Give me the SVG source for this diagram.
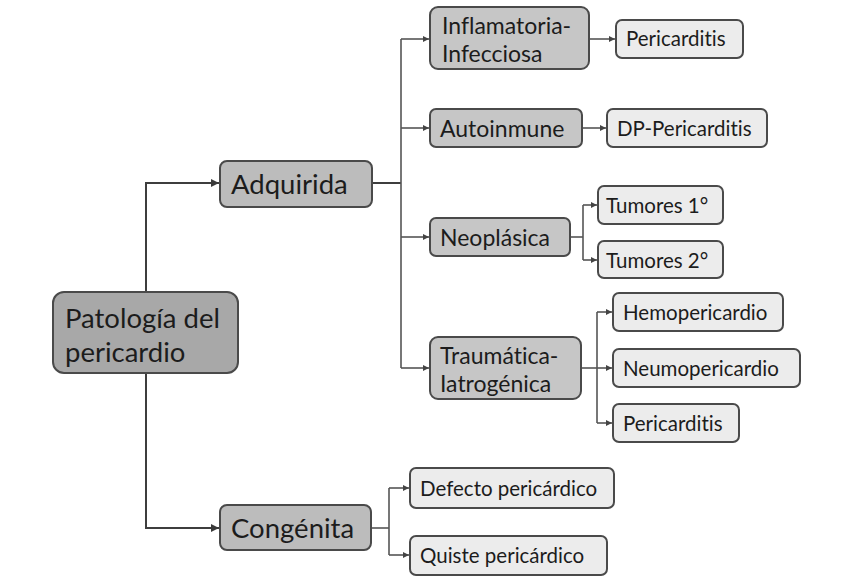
<svg xmlns="http://www.w3.org/2000/svg" width="850" height="581" viewBox="0 0 850 581">
<defs>
<marker id="ah" viewBox="0 0 10 10" refX="10" refY="5" markerWidth="10" markerHeight="8" markerUnits="userSpaceOnUse" orient="auto"><path d="M0,0 L10,5 L0,10 z" fill="#3a3a3a"/></marker>
<marker id="as" viewBox="0 0 10 10" refX="10" refY="5" markerWidth="7" markerHeight="6" markerUnits="userSpaceOnUse" orient="auto"><path d="M0,0 L10,5 L0,10 z" fill="#444"/></marker>
<style>
rect{stroke:#4a4a4a;stroke-width:2}
.r0{fill:#a8a8a8}
.r1{fill:#bcbcbc}
.r2{fill:#c6c6c6}
.r3{fill:#ececec}
text{font-family:Lato,"Liberation Sans",sans-serif;fill:#1c1c1c;font-variant-ligatures:none;font-feature-settings:"liga" 0,"dlig" 0}
.t0{font-size:27.5px}
.t2{font-size:23px}
.t3{font-size:20.5px}
.c{fill:none;stroke:#3e3e3e;stroke-width:2}
.cs{fill:none;stroke:#555;stroke-width:1.6}
</style>
</defs>
<rect width="850" height="581" fill="#fff" style="stroke:none"/>
<g id="connectors">
<path class="c" d="M146,292 V183 H219" marker-end="url(#ah)"/>
<path class="c" d="M146,373 V528 H219" marker-end="url(#ah)"/>
<path class="c" d="M372,183 H401"/>
<path class="cs" d="M401,39 V368"/>
<path class="cs" d="M401,39 H429" marker-end="url(#as)"/>
<path class="cs" d="M401,128 H429" marker-end="url(#as)"/>
<path class="cs" d="M401,237 H429" marker-end="url(#as)"/>
<path class="cs" d="M401,368 H429" marker-end="url(#as)"/>
<path class="cs" d="M589,39 H615" marker-end="url(#as)"/>
<path class="cs" d="M582,128 H606" marker-end="url(#as)"/>
<path class="cs" d="M570,237 H583"/>
<path class="cs" d="M583,205 V260"/>
<path class="cs" d="M583,205 H597" marker-end="url(#as)"/>
<path class="cs" d="M583,260 H597" marker-end="url(#as)"/>
<path class="cs" d="M581,368 H597"/>
<path class="cs" d="M597,312 V423"/>
<path class="cs" d="M597,312 H612" marker-end="url(#as)"/>
<path class="cs" d="M597,368 H612" marker-end="url(#as)"/>
<path class="cs" d="M597,423 H612" marker-end="url(#as)"/>
<path class="cs" d="M371,528 H389"/>
<path class="cs" d="M389,488 V555"/>
<path class="cs" d="M389,488 H409" marker-end="url(#as)"/>
<path class="cs" d="M389,555 H409" marker-end="url(#as)"/>
</g>
<g id="root"><rect class="r0" x="53" y="292" width="185" height="81" rx="11"/><text class="t0" x="65" y="328">Patología del</text><text class="t0" x="65" y="362">pericardio</text></g>
<g id="adquirida"><rect class="r1" x="220" y="161" width="152" height="46" rx="7"/><text class="t0" x="231" y="194">Adquirida</text></g>
<g id="congenita"><rect class="r1" x="220" y="505" width="151" height="45" rx="7"/><text class="t0" x="231" y="538">Congénita</text></g>
<g id="inflamatoria"><rect class="r2" x="430" y="7" width="159" height="62" rx="8"/><text class="t2" x="442" y="34">Inflamatoria-</text><text class="t2" x="442" y="62">Infecciosa</text></g>
<g id="pericarditis1"><rect class="r3" x="616" y="20" width="127" height="38" rx="6"/><text class="t3" x="626" y="46">Pericarditis</text></g>
<g id="autoinmune"><rect class="r2" x="430" y="109" width="152" height="38" rx="6"/><text class="t2" x="440" y="137">Autoinmune</text></g>
<g id="dp"><rect class="r3" x="607" y="109" width="160" height="38" rx="6"/><text class="t3" x="617" y="136">DP-Pericarditis</text></g>
<g id="neoplasica"><rect class="r2" x="430" y="218" width="140" height="38" rx="6"/><text class="t2" x="440" y="246">Neoplásica</text></g>
<g id="tumores1"><rect class="r3" x="598" y="186" width="125" height="38" rx="6"/><text class="t3" x="606" y="213">Tumores 1°</text></g>
<g id="tumores2"><rect class="r3" x="598" y="241" width="125" height="37" rx="6"/><text class="t3" x="606" y="268">Tumores 2°</text></g>
<g id="traumatica"><rect class="r2" x="430" y="337" width="151" height="62" rx="8"/><text class="t2" x="440" y="364">Traumática-</text><text class="t2" x="440" y="392">Iatrogénica</text></g>
<g id="hemo"><rect class="r3" x="613" y="293" width="170" height="38" rx="6"/><text class="t3" x="623" y="320">Hemopericardio</text></g>
<g id="neumo"><rect class="r3" x="613" y="349" width="187" height="38" rx="6"/><text class="t3" x="623" y="376">Neumopericardio</text></g>
<g id="pericarditis2"><rect class="r3" x="613" y="404" width="126" height="38" rx="6"/><text class="t3" x="623" y="431">Pericarditis</text></g>
<g id="defecto"><rect class="r3" x="410" y="468" width="204" height="40" rx="6"/><text class="t3" x="420" y="496">Defecto pericárdico</text></g>
<g id="quiste"><rect class="r3" x="410" y="536" width="197" height="39" rx="6"/><text class="t3" x="420" y="563">Quiste pericárdico</text></g>
</svg>
